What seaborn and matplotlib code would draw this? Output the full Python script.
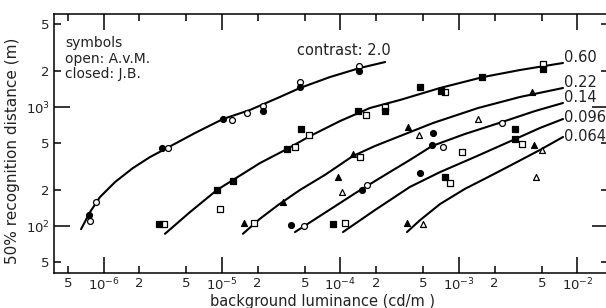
import matplotlib
matplotlib.use("Agg")
import matplotlib.pyplot as plt
import seaborn as sns
import pandas as pd

# ---------------- data ----------------
# fitted curves: luminance (cd/m2) and 50% recognition distance (m)
c20_lum = [6.46e-7, 7.69e-7, 9.33e-7, 1.25e-6, 1.77e-6, 2.47e-6, 3.43e-6, 5.92e-6, 1.02e-5, 1.72e-5, 3.08e-5, 4.55e-5, 8.15e-5, 1.46e-4, 2.38e-4]
c20_dist = [94, 131, 175, 234, 307, 380, 452, 605, 793, 944, 1214, 1445, 1786, 2128, 2388]
c060_lum = [3.30e-6, 5.37e-6, 9.08e-6, 1.24e-5, 2.09e-5, 3.54e-5, 5.53e-5, 9.91e-5, 1.77e-4, 3.18e-4, 6.92e-4, 1.60e-3, 3.27e-3, 7.55e-3]
c060_dist = [86, 131, 201, 244, 338, 444, 570, 762, 981, 1146, 1445, 1786, 2046, 2344]
c022_lum = [1.50e-5, 2.09e-5, 2.97e-5, 4.55e-5, 7.40e-5, 1.27e-4, 1.95e-4, 3.18e-4, 6.04e-4, 1.45e-3, 3.27e-3, 7.55e-3]
c022_dist = [86, 115, 150, 201, 269, 387, 470, 570, 734, 981, 1214, 1445]
c014_lum = [4.13e-5, 7.55e-5, 1.38e-4, 2.38e-4, 3.85e-4, 5.92e-4, 1.12e-3, 2.31e-3, 4.38e-3, 7.55e-3]
c014_dist = [89, 131, 193, 269, 359, 470, 593, 748, 925, 1081]
c0096_lum = [1.05e-4, 1.95e-4, 3.85e-4, 6.92e-4, 1.36e-3, 2.86e-3, 4.83e-3, 7.55e-3]
c0096_dist = [89, 136, 213, 284, 380, 528, 667, 793]
c0064_lum = [3.64e-4, 4.69e-4, 6.92e-4, 1.12e-3, 1.83e-3, 2.97e-3, 4.83e-3, 7.55e-3]
c0064_dist = [89, 112, 153, 205, 263, 338, 436, 560]

contrast_labels = ["0.60", "0.22", "0.14", "0.096", "0.064"]
contrast_label_y = [2582, 1622, 1191, 824, 560]

# measured points (open: A.v.M., closed: J.B.)
open_circle_lum = [7.7e-7, 8.65e-7, 3.50e-6, 1.21e-5, 1.63e-5, 2.22e-5, 4.55e-5, 1.43e-4, 4.92e-5, 1.68e-4, 7.33e-4, 2.31e-3]
open_circle_dist = [110, 159, 452, 778, 891, 1019, 1622, 2213, 100, 221, 461, 734]
filled_circle_lum = [7.55e-7, 3.12e-6, 1.02e-5, 2.22e-5, 4.55e-5, 1.43e-4, 3.82e-5, 1.52e-4, 6.04e-4, 4.69e-4, 5.92e-4]
filled_circle_dist = [124, 452, 793, 925, 1472, 2009, 102, 201, 605, 279, 480]
open_square_lum = [3.24e-6, 9.62e-6, 4.13e-5, 5.42e-5, 1.64e-4, 2.38e-4, 7.62e-4, 5.12e-3, 1.86e-5, 1.46e-4, 1.09e-4, 1.06e-3, 8.4e-4, 3.39e-3]
open_square_dist = [104, 139, 461, 582, 857, 1000, 1337, 2296, 106, 380, 106, 419, 230, 489]
filled_square_lum = [2.94e-6, 9.08e-6, 1.24e-5, 3.54e-5, 4.65e-5, 1.41e-4, 2.38e-4, 4.69e-4, 7.05e-4, 1.56e-3, 5.12e-3, 8.65e-5, 7.62e-4, 2.95e-3, 2.95e-3]
filled_square_dist = [104, 201, 239, 444, 653, 925, 925, 1472, 1362, 1786, 2084, 104, 258, 653, 538]
open_triangle_lum = [1.03e-4, 4.59e-4, 1.45e-3, 4.97e-4, 4.47e-3, 5.0e-3]
open_triangle_dist = [193, 582, 793, 104, 258, 436]
filled_triangle_lum = [1.53e-5, 3.27e-5, 9.53e-5, 1.27e-4, 3.72e-4, 4.13e-3, 3.64e-4, 4.3e-3]
filled_triangle_dist = [106, 159, 258, 403, 679, 1337, 106, 480]

x_major = [1e-6, 1e-5, 1e-4, 1e-3, 1e-2]
x_major_labels = ["$10^{-6}$", "$10^{-5}$", "$10^{-4}$", "$10^{-3}$", "$10^{-2}$"]
x_minor = [5e-7, 2e-6, 5e-6, 2e-5, 5e-5, 2e-4, 5e-4, 2e-3, 5e-3]
x_minor_labels = ["5", "2", "5", "2", "5", "2", "5", "2", "5"]
y_major = [1e2, 1e3]
y_major_labels = ["$10^2$", "$10^3$"]
y_minor = [50, 200, 500, 2000, 5000]
y_minor_labels = ["5", "2", "5", "2", "5"]

# ---------------- drawing ----------------
sns.set_style("ticks")
plt.rcParams["font.family"] = ["DejaVu Sans"]

fig = plt.figure(figsize=(6.06, 3.08), dpi=100)
W, H = 606, 308
ax = fig.add_axes([54 / W, 1 - 273 / H, (608 - 54) / W, (273 - 14) / H])
ax.set_xscale("log")
ax.set_yscale("log")

curves = [(c20_lum, c20_dist), (c060_lum, c060_dist), (c022_lum, c022_dist),
          (c014_lum, c014_dist), (c0096_lum, c0096_dist), (c0064_lum, c0064_dist)]
for lum, dist in curves:
    df = pd.DataFrame({"lum": lum, "dist": dist})
    sns.lineplot(data=df, x="lum", y="dist", ax=ax, color="black", lw=1.5,
                 sort=False, estimator=None, legend=False)

groups = [
    (open_circle_lum, open_circle_dist, "o", "white"),
    (filled_circle_lum, filled_circle_dist, "o", "black"),
    (open_square_lum, open_square_dist, "s", "white"),
    (filled_square_lum, filled_square_dist, "s", "black"),
    (open_triangle_lum, open_triangle_dist, "^", "white"),
    (filled_triangle_lum, filled_triangle_dist, "^", "black"),
]
for lum, dist, mk, fc in groups:
    df = pd.DataFrame({"lum": lum, "dist": dist})
    sns.scatterplot(data=df, x="lum", y="dist", ax=ax, marker=mk, s=18,
                    facecolor=fc, edgecolor="black", linewidth=0.9, zorder=3,
                    legend=False)

ax.set_xlim(3.82e-7, 1.81e-2)
ax.set_ylim(40.3, 6047)

ax.set_xticks(x_major)
ax.set_xticklabels(x_major_labels)
ax.set_xticks(x_minor, minor=True)
ax.set_xticklabels(x_minor_labels, minor=True)
ax.set_yticks(y_major)
ax.set_yticklabels(y_major_labels)
ax.set_yticks(y_minor, minor=True)
ax.set_yticklabels(y_minor_labels, minor=True)

ax.tick_params(which="both", direction="in", top=True, right=True,
               labelsize=9.5, pad=3, width=1.1, color="black", labelcolor="#222222")
ax.tick_params(which="major", length=11.5)
ax.tick_params(which="minor", length=5)
for sp in ax.spines.values():
    sp.set_linewidth(1.1)
    sp.set_color("black")

ax.set_xlabel("background luminance (cd/m )", fontsize=10.5, color="#222222")
ax.set_ylabel("50% recognition distance (m)", fontsize=11, color="#222222")
ax.xaxis.set_label_coords(0.484, -0.083)
ax.yaxis.set_label_coords(-0.062, 0.47)

ax.text(4.3e-5, 2960, "contrast: 2.0", fontsize=10.5, ha="left", va="center", color="#222222")
for lab, yv in zip(contrast_labels, contrast_label_y):
    ax.text(7.69e-3, yv, lab, fontsize=10.5, ha="left", va="center", color="#222222")

ax.text(0.02, 0.915, "symbols\nopen: A.v.M.\nclosed: J.B.", transform=ax.transAxes,
        fontsize=10, ha="left", va="top", linespacing=1.15, color="#222222")

fig.savefig("out.png", dpi=100)
